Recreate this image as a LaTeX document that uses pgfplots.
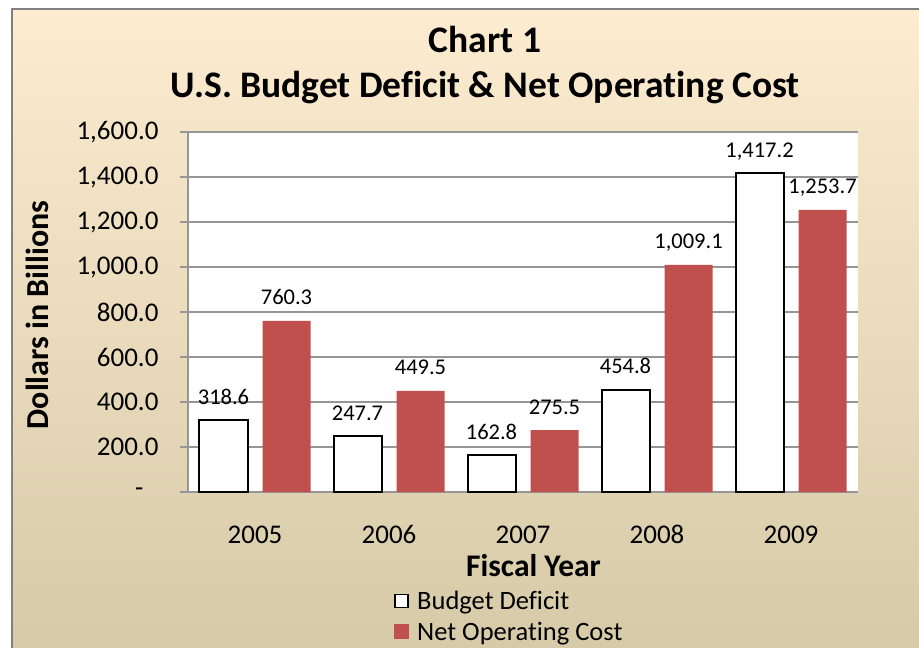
\documentclass[border=0pt]{standalone}
\usepackage{fontspec}
\setmainfont{Carlito}[Ligatures=CommonOff]
\usepackage{pgfplots}
\pgfplotsset{compat=1.18}

\definecolor{bgtop}{RGB}{253,236,208}
\definecolor{bgmid}{RGB}{243,232,207}
\definecolor{bgbot}{RGB}{214,202,168}
\definecolor{gridgray}{RGB}{150,150,150}
\definecolor{noc}{RGB}{192,80,77}

\newcommand{\fs}[1]{\fontsize{#1bp}{1.2\dimexpr#1bp\relax}\selectfont}

\begin{document}
\begin{tikzpicture}
\useasboundingbox (0,-648bp) rectangle (919bp,0);
\fill[white] (0,-648bp) rectangle (919bp,0);
\shade[top color=bgtop, middle color=bgmid, bottom color=bgbot] (12bp,-648bp) rectangle (919bp,-9bp);
\draw[gray, line width=2bp] (12bp,-648bp) -- (12bp,-9bp) -- (919bp,-9bp);

\begin{axis}[
  at={(188bp,-492bp)}, anchor=south west,
  scale only axis, width=670bp, height=360bp,
  ybar=15bp, bar width=48bp,
  xmin=-0.5, xmax=4.5, ymin=0, ymax=1600,
  xtick={0,1,2,3,4}, xticklabels={2005,2006,2007,2008,2009},
  ytick={0,200,...,1600},
  yticklabels={{-\kern15bp\mbox{}},200.0,400.0,600.0,800.0,{1,000.0},{1,200.0},{1,400.0},{1,600.0}},
  axis background/.style={fill=white},
  axis x line*=bottom, axis y line*=left,
  x axis line style={gridgray, line width=2bp, -},
  y axis line style={gridgray, line width=1.2bp, -},
  ymajorgrids, grid style={gridgray, line width=1.2bp},
  xtick style={draw=none},
  ytick style={gridgray, line width=1.2bp},
  major tick length=8bp,
  tick align=outside,
  yticklabel style={font=\fs{27}, xshift=-18bp},
  xticklabel style={font=\fs{27}, anchor=base, yshift=-43bp},
  nodes near coords={\pgfmathprintnumber[fixed, fixed zerofill, precision=1, 1000 sep={,}, assume math mode=true]{\pgfplotspointmeta}},
  nodes near coords style={font=\fs{22.5}, anchor=base, yshift=16bp, black},
  legend style={at={(axis description cs:0.303,-0.265)}, anchor=north west,
    draw=none, fill=none, font=\fs{26.5}, row sep=6.5bp, column sep=6bp,
    legend cell align=left},
  clip=false,
]
\addplot[draw=black, line width=2bp, fill=white,
  legend image code/.code={\draw[black, line width=1.8bp, fill=white] (1bp,-6bp) rectangle (14bp,7bp);}]
  coordinates {(0,318.6) (1,247.7) (2,162.8) (3,454.8) (4,1417.2)};
\addlegendentry{Budget Deficit}
\addplot[draw=none, fill=noc,
  legend image code/.code={\fill[noc] (0bp,-7bp) rectangle (15bp,8bp);}]
  coordinates {(0,760.3) (1,449.5) (2,275.5) (3,1009.1) (4,1253.7)};
\addlegendentry{Net Operating Cost}

\node[font=\fs{37.5}\bfseries, anchor=base] at (axis description cs:0.4433,1.2222) {Chart 1};
\node[font=\fs{37.5}\bfseries, anchor=base] at (axis description cs:0.4433,1.0972) {U.S. Budget Deficit \& Net Operating Cost};
\node[font=\fs{31.5}\bfseries, anchor=base] at (axis description cs:0.5157,-0.236) {Fiscal Year};
\node[font=\fs{32}\bfseries, rotate=90] at (axis description cs:-0.2254,0.4917) {Dollars in Billions};
\end{axis}
\end{tikzpicture}
\end{document}
